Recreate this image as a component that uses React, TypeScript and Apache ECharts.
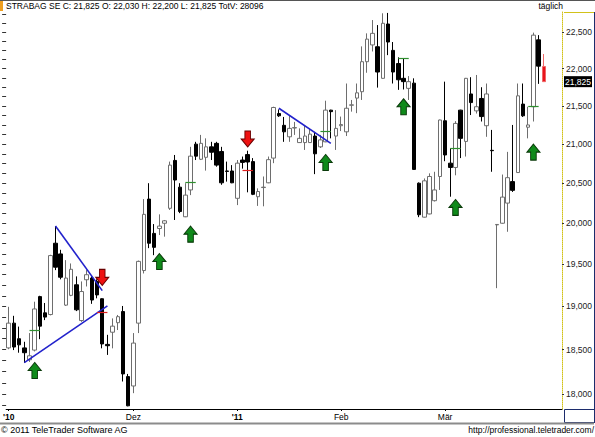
import React, { useEffect, useRef } from "react";
import * as echarts from "echarts";

// Daily prices (EUR) — STRABAG SE
const opens = [
  18.52, 18.805, 18.625, 18.52, 18.385, 18.495, 19.115, 18.925, 18.905, 19.755,
  19.625, 19.015, 19.13, 19.255, 18.835, 19.315, 19.335, 19.295, 19.09, 18.56,
  18.7, 18.81, 18.94, 18.195, 18.09, 18.805, 19.425, 20.3, 19.875, 19.935,
  20.0, 20.185, 20.79, 20.45, 20.08, 20.415, 21.0, 20.805, 20.83, 20.965,
  21.01, 20.905, 20.655, 20.655, 20.31, 20.795, 20.865, 20.775, 20.33, 20.445,
  20.505, 20.82, 21.4, 21.245, 21.095, 21.21, 21.02, 21.02, 21.02, 21.105,
  20.965, 21.03, 21.445, 21.105, 21.24, 21.16, 21.51, 21.605, 21.69, 22.095,
  22.325, 22.3, 21.87, 22.615, 22.25, 22.07, 21.87, 21.735, 21.805, 20.5,
  20.075, 20.115, 20.28, 20.585, 21.305, 20.755, 20.7, 21.445, 21.035, 21.66,
  21.435, 21.6, 21.24, 20.92, 19.98, 20.0, 20.25, 20.52, 20.635, 21.525,
  21.22, 21.49, 22.395, 22.03,
];
const closes = [
  18.805, 18.53, 18.555, 18.465, 18.43, 18.97, 18.77, 18.875, 19.605, 19.465,
  19.345, 19.335, 19.44, 18.96, 19.175, 19.375, 19.075, 19.135, 18.565, 18.545,
  18.77, 18.88, 18.225, 17.87, 18.575, 19.535, 20.11, 19.755, 19.705, 19.965,
  20.03, 20.73, 20.54, 20.145, 20.35, 20.845, 20.845, 21.01, 20.965, 20.895,
  20.73, 20.505, 20.65, 20.505, 20.755, 20.765, 20.77, 20.36, 20.395, 20.45,
  20.8, 21.48, 21.37, 21.16, 21.205, 21.215, 21.075, 21.105, 21.13, 20.875,
  21.055, 21.445, 21.425, 21.205, 21.255, 21.47, 21.515, 21.675, 22.095, 22.405,
  22.485, 21.955, 22.625, 22.365, 21.955, 21.85, 21.825, 21.825, 20.675, 20.105,
  20.53, 20.585, 20.415, 21.315, 20.86, 20.7, 21.27, 21.075, 21.87, 21.545,
  21.49, 21.36, 21.66, 20.915, 19.985, 20.325, 20.57, 20.41, 21.635, 21.37,
  21.25, 22.46, 22.035, 21.825,
];
const lows = [
  18.505, 18.495, 18.465, 18.35, 18.36, 18.48, 18.62, 18.84, 18.895, 19.43,
  19.32, 19.005, 19.12, 18.945, 18.82, 19.235, 19.03, 19.095, 18.515, 18.44,
  18.515, 18.725, 18.14, 17.865, 18.01, 18.69, 19.39, 19.695, 19.61, 19.855,
  19.835, 20.165, 20.04, 20.125, 20.075, 20.35, 20.795, 20.795, 20.66, 20.795,
  20.71, 20.48, 20.52, 20.5, 20.225, 20.685, 20.385, 20.35, 20.215, 20.21,
  20.5, 20.755, 21.355, 21.03, 21.03, 21.12, 21.015, 20.925, 21.015, 20.615,
  20.95, 21.025, 21.075, 20.925, 21.17, 21.105, 21.425, 21.405, 21.58, 21.945,
  22.235, 21.745, 21.865, 22.185, 21.8, 21.715, 21.72, 21.58, 20.67, 20.075,
  20.07, 20.11, 20.27, 20.415, 20.78, 20.33, 20.6, 20.82, 20.84, 21.38,
  21.4, 21.295, 21.095, 20.645, 19.215, 19.995, 19.895, 20.39, 20.63, 21.355,
  21.075, 21.295, 21.795, 21.825,
];
const highs = [
  18.995, 18.89, 18.765, 18.59, 18.69, 19.055, 19.125, 19.04, 19.615, 19.965,
  19.675, 19.55, 19.51, 19.355, 19.295, 19.43, 19.355, 19.32, 19.095, 18.67,
  18.86, 18.9, 19.005, 18.225, 18.69, 19.545, 20.3, 20.5, 19.99, 20.11,
  20.04, 20.775, 20.86, 20.5, 20.5, 20.965, 21.03, 21.12, 21.075, 21.03,
  21.03, 20.965, 20.775, 20.73, 20.795, 20.84, 20.915, 20.82, 20.435, 20.585,
  20.84, 21.49, 21.455, 21.355, 21.38, 21.29, 21.205, 21.25, 21.205, 21.16,
  21.12, 21.57, 21.45, 21.445, 21.36, 21.8, 21.58, 21.8, 22.305, 22.485,
  22.67, 22.6, 22.765, 22.77, 22.365, 22.155, 22.14, 21.9, 21.87, 20.51,
  20.56, 20.625, 20.645, 21.32, 21.825, 20.945, 21.3, 21.45, 21.875, 21.885,
  21.915, 21.75, 21.8, 21.185, 19.99, 20.61, 20.9, 21.25, 21.8, 21.8,
  21.49, 22.495, 22.46, 22.2,
];
const lastVolume = 28096;
const title = "STRABAG SE";

// x-axis labels: [candle index, text]
const monthLabels: [number, string][] = [
  [0, "'10"],
  [24, "Dez"],
  [44, "'11"],
  [64, "Feb"],
  [84, "Mär"],
];
const emptySlotsAtEnd = 3;

// price axis
const priceTicks = [18, 18.5, 19, 19.5, 20, 20.5, 21, 21.5, 22, 22.5];
const priceMin = 17.835;
const priceMax = 22.783;
const minorStep = 0.125;

// drawings: [fromIndex, fromPrice, toIndex, toPrice]
const trendLines: number[][] = [
  [3, 18.353, 19, 19.006],
  [9, 19.967, 18, 19.186],
  [52, 21.47, 62, 21.009],
];
// [fromIndex, toIndex, price]
const greenMarks: number[][] = [
  [4, 6, 18.718],
  [34, 36, 20.512],
  [60, 62, 21.171],
  [75, 77, 22.14],
  [85, 87, 20.944],
  [100, 102, 21.493],
];
const redMarks: number[][] = [
  [17, 19, 18.935],
  [45, 47, 20.661],
];
// [index, price]
const upArrows: number[][] = [
  [5, 18.264],
  [29, 19.533],
  [35, 19.866],
  [61, 20.764],
  [76, 21.49],
  [86, 20.196],
  [101, 20.897],
];
const downArrows: number[][] = [
  [18, 19.343],
  [46, 21.067],
];

const FONT = '"Liberation Sans", Arial, sans-serif';
const ln = Math.log;
const fmt = (v: number) => v.toFixed(3).replace(".", ",");

function buildOption() {
  const n = opens.length;
  const categories: string[] = [];
  for (let i = 0; i < n + emptySlotsAtEnd; i++) categories.push("");
  monthLabels.forEach(([i, t]) => (categories[i] = t));

  const candleData: any[] = opens.map((o, i) => [
    ln(o),
    ln(closes[i]),
    ln(lows[i]),
    ln(highs[i]),
  ]);
  const last = n - 1;
  candleData[last] = {
    value: candleData[last],
    itemStyle: {
      color: "#e8141c",
      color0: "#e8141c",
      borderColor: "#f06868",
      borderColor0: "#f06868",
    },
  };

  const minorTicks: number[] = [];
  for (let v = Math.ceil(priceMin / minorStep) * minorStep; v <= priceMax; v += minorStep) {
    minorTicks.push(ln(v));
  }

  const markData: any[] = [];
  trendLines.forEach(([i0, p0, i1, p1]) => {
    markData.push([
      { coord: [i0, ln(p0)], lineStyle: { color: "#2222cc", width: 1.6, type: "solid" } },
      { coord: [i1, ln(p1)] },
    ]);
  });
  greenMarks.forEach(([i0, i1, p]) => {
    markData.push([
      { coord: [i0, ln(p)], lineStyle: { color: "#2f8f2f", width: 1.2, type: "solid" } },
      { coord: [i1, ln(p)] },
    ]);
  });
  redMarks.forEach(([i0, i1, p]) => {
    markData.push([
      { coord: [i0, ln(p)], lineStyle: { color: "#e02020", width: 1.2, type: "solid" } },
      { coord: [i1, ln(p)] },
    ]);
  });

  const upPath = "path://M7,0L14,8L10,8L10,16L4,16L4,8L0,8Z";
  const downPath = "path://M4,0L10,0L10,8L14,8L7,16L0,8L4,8Z";

  const header = `${title} C: ${fmt(closes[last])} O: ${fmt(opens[last])} H: ${fmt(
    highs[last]
  )} L: ${fmt(lows[last])} TotV: ${lastVolume}`;

  const showLabel = (_i: number, v: string) => v !== "";

  return {
    animation: false,
    backgroundColor: "#ffffff",
    textStyle: { fontFamily: FONT },
    grid: { left: 6, right: 31, top: 12, bottom: 28, containLabel: false },
    xAxis: {
      type: "category",
      data: categories,
      boundaryGap: true,
      axisLine: { show: true, lineStyle: { color: "#000", width: 1 } },
      axisTick: { show: true, interval: showLabel, length: 2, lineStyle: { color: "#000" }, alignWithLabel: true },
      axisLabel: {
        interval: showLabel,
        fontSize: 8.5,
        color: "#000",
        margin: 3,
        fontFamily: FONT,
        formatter: (v: string) => (v.startsWith("'") ? `{b|${v}}` : v),
        rich: { b: { fontWeight: "bold", fontSize: 8.5, fontFamily: FONT, color: "#000" } },
      },
      splitLine: { show: false },
    },
    yAxis: [
      {
        type: "value",
        position: "right",
        min: ln(priceMin),
        max: ln(priceMax),
        scale: true,
        axisLine: { show: true, lineStyle: { color: "#d2c21a", type: "dotted", width: 1 } },
        axisTick: {
          show: true,
          length: 2,
          customValues: priceTicks.map(ln),
          lineStyle: { color: "#333" },
        },
        axisLabel: {
          show: true,
          customValues: priceTicks.map(ln),
          margin: 4,
          fontSize: 8.5,
          color: "#222",
          fontFamily: FONT,
          formatter: (v: number) => fmt(Math.round(Math.exp(v) * 1000) / 1000),
        },
        splitLine: { show: false },
      },
      {
        type: "value",
        position: "left",
        min: ln(priceMin),
        max: ln(priceMax),
        scale: true,
        axisLine: { show: false },
        axisTick: {
          show: true,
          length: 4,
          customValues: minorTicks,
          lineStyle: { color: "#333" },
        },
        axisLabel: { show: false },
        splitLine: { show: false },
      },
    ],
    series: [
      {
        type: "candlestick",
        yAxisIndex: 0,
        data: candleData,
        barWidth: 4,
        itemStyle: {
          color: "#ffffff",
          color0: "#000000",
          borderColor: "#6e6e6e",
          borderColor0: "#000000",
          borderWidth: 1,
        },
        markLine: {
          silent: true,
          symbol: ["none", "none"],
          label: { show: false },
          emphasis: { disabled: true },
          data: markData,
          animation: false,
        },
      },
      {
        type: "scatter",
        yAxisIndex: 0,
        symbol: upPath,
        symbolSize: [13, 16],
        silent: true,
        itemStyle: { color: "#0f8a1a", borderColor: "#0a3a0a", borderWidth: 1, opacity: 1 },
        data: upArrows.map(([i, p]) => [i, ln(p)]),
        z: 5,
      },
      {
        type: "scatter",
        yAxisIndex: 0,
        symbol: downPath,
        symbolSize: [13, 16],
        silent: true,
        itemStyle: { color: "#ee1111", borderColor: "#6a0000", borderWidth: 1, opacity: 1 },
        data: downArrows.map(([i, p]) => [i, ln(p)]),
        z: 5,
      },
      {
        // current price tag on the price axis
        type: "custom",
        yAxisIndex: 0,
        silent: true,
        clip: false,
        z: 10,
        data: [[last, ln(closes[last])]],
        renderItem: (params: any, api: any) => {
          const pt = api.coord([api.value(0), api.value(1)]);
          const right = params.coordSys.x + params.coordSys.width;
          return {
            type: "group",
            children: [
              {
                type: "rect",
                shape: { x: right + 2, y: pt[1] - 5.5, width: 28, height: 11 },
                style: { fill: "#000" },
              },
              {
                type: "text",
                x: right + 16,
                y: pt[1],
                style: {
                  text: fmt(closes[last]),
                  fill: "#fff",
                  font: `8.5px ${FONT}`,
                  textAlign: "center",
                  textVerticalAlign: "middle",
                },
              },
            ],
          };
        },
      },
    ],
    graphic: [
      { type: "line", shape: { x1: 0, y1: 0.5, x2: 595, y2: 0.5 }, style: { stroke: "#555", lineWidth: 1 } },
      { type: "rect", shape: { x: 0, y: 1, width: 3, height: 10 }, style: { fill: "#f0a020" } },
      {
        type: "text",
        x: 6,
        y: 6,
        style: { text: header, font: `8.5px ${FONT}`, fill: "#000", textVerticalAlign: "middle" },
      },
      {
        type: "text",
        x: 563,
        y: 6,
        style: { text: "täglich", font: `8.5px ${FONT}`, fill: "#000", textAlign: "right", textVerticalAlign: "middle" },
      },
      { type: "line", shape: { x1: 564, y1: 12.5, x2: 594, y2: 12.5 }, style: { stroke: "#d2c21a", lineWidth: 1 } },
      { type: "line", shape: { x1: 594.5, y1: 12, x2: 594.5, y2: 423 }, style: { stroke: "#1c2c6c", lineWidth: 1 } },
      {
        type: "rect",
        shape: { x: 564.5, y: 409.5, width: 30, height: 13 },
        style: { fill: "none", stroke: "#1c2c6c", lineWidth: 1 },
      },
      { type: "line", shape: { x1: 0, y1: 423.5, x2: 594, y2: 423.5 }, style: { stroke: "#8c8c8c", lineWidth: 2 } },
      {
        type: "text",
        x: 1,
        y: 430,
        style: { text: "© 2011 TeleTrader Software AG", font: `9px ${FONT}`, fill: "#000", textVerticalAlign: "middle" },
      },
      {
        type: "text",
        x: 594,
        y: 430,
        style: {
          text: "http://professional.teletrader.com/",
          font: `8.5px ${FONT}`,
          fill: "#000",
          textAlign: "right",
          textVerticalAlign: "middle",
        },
      },
    ],
  };
}

export default function App() {
  const ref = useRef<HTMLDivElement>(null);
  useEffect(() => {
    const chart = echarts.init(ref.current!, null, { renderer: "svg" });
    chart.setOption(buildOption() as any);
    return () => chart.dispose();
  }, []);
  return (
    <div
      ref={ref}
      style={{ position: "fixed", left: 0, top: 0, width: 595, height: 437, background: "#fff" }}
    />
  );
}
